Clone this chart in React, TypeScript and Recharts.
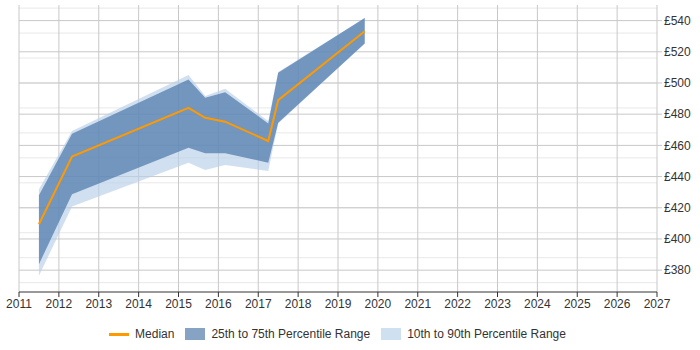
import React from 'react';
import { ComposedChart, Area, Line, XAxis, YAxis, CartesianGrid, Legend } from 'recharts';

// Survey points as decimal years
const dates = [2011.5, 2012.33, 2015.25, 2015.67, 2016.17, 2017.25, 2017.5, 2019.67];
const median = [409.4, 452.8, 484.1, 477.7, 475.2, 462.8, 489, 533.2];
const p25 = [383.8, 428.6, 458.5, 454.9, 454.9, 448.9, 474.5, 525.3];
const p75 = [428, 467.5, 502.2, 490.5, 494.1, 474.1, 506.5, 541.7];
const p10 = [376.4, 420.8, 448.9, 444.2, 447.4, 443.6, 474, 525.3];
const p90 = [431.8, 469.2, 505.2, 491.6, 496.3, 475.6, 507, 541.7];

const yearTicks = [2011, 2012, 2013, 2014, 2015, 2016, 2017, 2018, 2019, 2020, 2021, 2022, 2023, 2024, 2025, 2026, 2027];
const rateTicks = [380, 400, 420, 440, 460, 480, 500, 520, 540];
const minorRates: number[] = [];
for (let v = 368; v <= 548; v += 4) minorRates.push(v);

const data = dates.map((d, i) => ({
  year: d,
  median: median[i],
  iqr: [p25[i], p75[i]],
  outer: [p10[i], p90[i]],
}));

const font = 'Arial, "Liberation Sans", sans-serif';

function LegendBox() {
  const item = { display: 'flex', alignItems: 'center', marginRight: 11 } as React.CSSProperties;
  const swatch = (bg: string) => ({ width: 20, height: 12, background: bg, marginRight: 6 });
  return (
    <div style={{ height: 30, display: 'flex', justifyContent: 'center', alignItems: 'center', fontFamily: font, fontSize: 12, color: '#333' }}>
      <div style={item}>
        <div style={{ width: 20, height: 3, background: '#ff9900', marginRight: 6 }} />
        <span>Median</span>
      </div>
      <div style={item}>
        <div style={swatch('#86a3c4')} />
        <span>25th to 75th Percentile Range</span>
      </div>
      <div style={{ ...item, marginRight: 0 }}>
        <div style={swatch('#cfe0f1')} />
        <span>10th to 90th Percentile Range</span>
      </div>
    </div>
  );
}

export default function App() {
  return (
    <div style={{ position: 'absolute', left: 0, top: 0, width: 700, height: 350, background: '#fff' }}>
      <ComposedChart width={700} height={350} data={data} margin={{ top: 5, right: 0, left: 19, bottom: 1 }}>
        <CartesianGrid horizontalValues={minorRates} vertical={false} stroke="#e8e8e8" />
        <CartesianGrid horizontalValues={rateTicks} verticalValues={yearTicks} stroke="#c8c8c8" />
        <XAxis
          dataKey="year"
          type="number"
          domain={[2011, 2027]}
          ticks={yearTicks}
          height={27}
          stroke="#333"
          tickSize={5}
          tick={{ fontSize: 12, fill: '#333', fontFamily: font }}
        />
        <YAxis
          orientation="right"
          type="number"
          domain={[366, 550]}
          allowDataOverflow
          ticks={rateTicks}
          width={43}
          axisLine={false}
          tickLine={{ stroke: '#c8c8c8' }}
          tickSize={5}
          tickFormatter={(v: number) => `£${v}`}
          tick={{ fontSize: 12, fill: '#333', fontFamily: font }}
        />
        <Area dataKey="outer" type="linear" stroke="none" fill="#b8d0ea" fillOpacity={0.65} isAnimationActive={false} />
        <Area dataKey="iqr" type="linear" stroke="none" fill="#4a76a8" fillOpacity={0.7} isAnimationActive={false} />
        <Line dataKey="median" type="linear" stroke="#ff9900" strokeWidth={2} dot={false} isAnimationActive={false} />
        <Legend verticalAlign="bottom" wrapperStyle={{ left: 0, width: 675 }} content={() => <LegendBox />} />
      </ComposedChart>
    </div>
  );
}
